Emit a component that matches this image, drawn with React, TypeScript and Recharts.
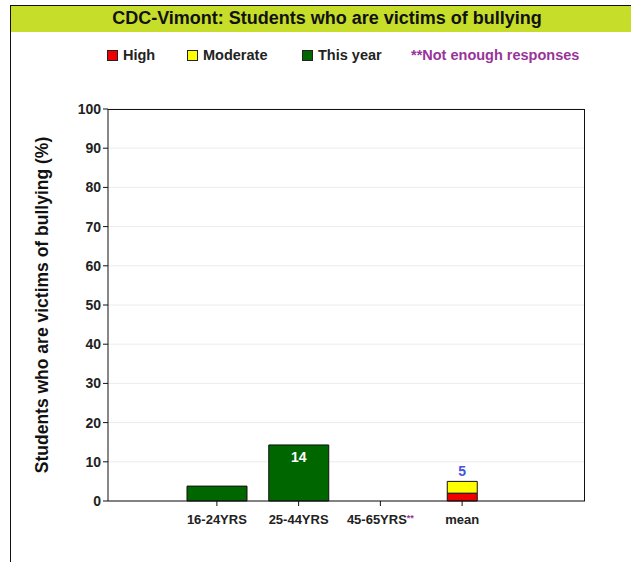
import { BarChart, Bar, XAxis, YAxis, CartesianGrid, LabelList } from 'recharts';

const categories = ['16-24YRS', '25-44YRS', '45-65YRS', 'mean'];
const thisYear = [3.8, 14.3, null, null];
const high = [null, null, null, 2];
const moderate = [null, null, null, 3];
const notEnough = [false, false, true, false];
const yTicks = [0, 10, 20, 30, 40, 50, 60, 70, 80, 90, 100];

const data = categories.map((name, i) => ({
  name,
  thisYear: thisYear[i],
  high: high[i],
  moderate: moderate[i],
  total: high[i] != null || moderate[i] != null ? (high[i] ?? 0) + (moderate[i] ?? 0) : null,
}));

const font = '"Liberation Sans", Arial, sans-serif';

const XTick = (props: any) => {
  const { x, y, payload, index } = props;
  const flag = notEnough[index];
  return (
    <text x={x} y={y + 16} textAnchor="middle" fontFamily={font} fontWeight="bold" fontSize={13} fill="#222">
      {payload.value}
      {flag && (
        <tspan fill="#993399" fontSize={9} dy={-3}>**</tspan>
      )}
    </text>
  );
};

const InsideLabel = (props: any) => {
  const { x, y, width, value } = props;
  if (value == null || value < 8) return null;
  return (
    <text x={x + width / 2} y={y + 17} textAnchor="middle" fill="#fff" fontFamily={font} fontWeight="bold" fontSize={14}>
      {Math.round(value)}
    </text>
  );
};

const TotalLabel = (props: any) => {
  const { x, y, width, value } = props;
  if (value == null || !value) return null;
  return (
    <text x={x + width / 2} y={y - 5} textAnchor="middle" fill="#4455dd" fontFamily={font} fontWeight="bold" fontSize={14}>
      {Math.round(value)}
    </text>
  );
};

const legendItems = [
  { label: 'High', color: '#ee0000', left: 107 },
  { label: 'Moderate', color: '#ffff00', left: 187 },
  { label: 'This year', color: '#006600', left: 302 },
];

export default function App() {
  return (
    <div style={{ position: 'absolute', left: 0, top: 0, width: 631, height: 562, background: '#fff', fontFamily: font }}>
      <div style={{ position: 'absolute', left: 10, top: 5, width: 621, height: 1, background: '#111' }} />
      <div style={{ position: 'absolute', left: 10, top: 5, width: 1, height: 557, background: '#111' }} />
      <div
        style={{
          position: 'absolute', left: 11, top: 6, width: 620, height: 26, background: '#c6dd2a',
          textAlign: 'center', fontWeight: 'bold', fontSize: 18, lineHeight: '25px', color: '#111',
        }}
      >
        <span style={{ position: 'relative', left: 6 }}>CDC-Vimont: Students who are victims of bullying</span>
      </div>
      {legendItems.map((it) => (
        <div key={it.label} style={{ position: 'absolute', left: it.left, top: 47, fontSize: 14.5, fontWeight: 'bold', color: '#222', whiteSpace: 'nowrap' }}>
          <span style={{ display: 'inline-block', width: 9, height: 9, background: it.color, border: '1px solid #222', marginRight: 5, verticalAlign: -1 }} />
          {it.label}
        </div>
      ))}
      <div style={{ position: 'absolute', left: 411, top: 47, fontSize: 14.5, fontWeight: 'bold', color: '#993399', whiteSpace: 'nowrap' }}>
        **Not enough responses
      </div>
      <div style={{ position: 'absolute', left: 0, top: 0 }}>
        <BarChart width={631} height={562} data={data} margin={{ top: 109, right: 46, left: 48, bottom: 31 }}>
          <CartesianGrid vertical={false} stroke="#ececec" />
          <XAxis
            dataKey="name"
            padding={{ left: 68, right: 82 }}
            height={30}
            axisLine={{ stroke: '#111' }}
            tickLine={{ stroke: '#111' }}
            tickSize={5}
            tick={<XTick />}
            interval={0}
          />
          <XAxis
            xAxisId="top"
            dataKey="name"
            orientation="top"
            padding={{ left: 68, right: 82 }}
            height={0}
            hide
          />
          <YAxis
            domain={[0, 100]}
            ticks={yTicks}
            width={60}
            axisLine={{ stroke: '#111' }}
            tickLine={{ stroke: '#111' }}
            tickSize={5}
            tick={{ fontSize: 14, fontWeight: 'bold', fill: '#222', fontFamily: font }}
            label={{
              value: 'Students who are victims of bullying (%)',
              angle: -90,
              position: 'insideLeft',
              offset: 0,
              dx: -6,
              style: { textAnchor: 'middle', fontSize: 17.5, fontWeight: 'bold', fill: '#111', fontFamily: font },
            }}
          />
          <Bar dataKey="thisYear" fill="#006600" stroke="#111" strokeWidth={1} barSize={60} isAnimationActive={false}>
            <LabelList dataKey="thisYear" content={<InsideLabel />} />
          </Bar>
          <Bar xAxisId="top" dataKey="high" stackId="m" fill="#ee0000" stroke="#111" strokeWidth={1} barSize={30} isAnimationActive={false} />
          <Bar xAxisId="top" dataKey="moderate" stackId="m" fill="#ffff00" stroke="#111" strokeWidth={1} barSize={30} isAnimationActive={false}>
            <LabelList dataKey="total" content={<TotalLabel />} />
          </Bar>
        </BarChart>
      </div>
      <div style={{ position: 'absolute', left: 108, top: 109, width: 477, height: 392, border: '1px solid #111', borderLeft: 'none', borderBottom: 'none', boxSizing: 'border-box', pointerEvents: 'none' }} />
    </div>
  );
}
